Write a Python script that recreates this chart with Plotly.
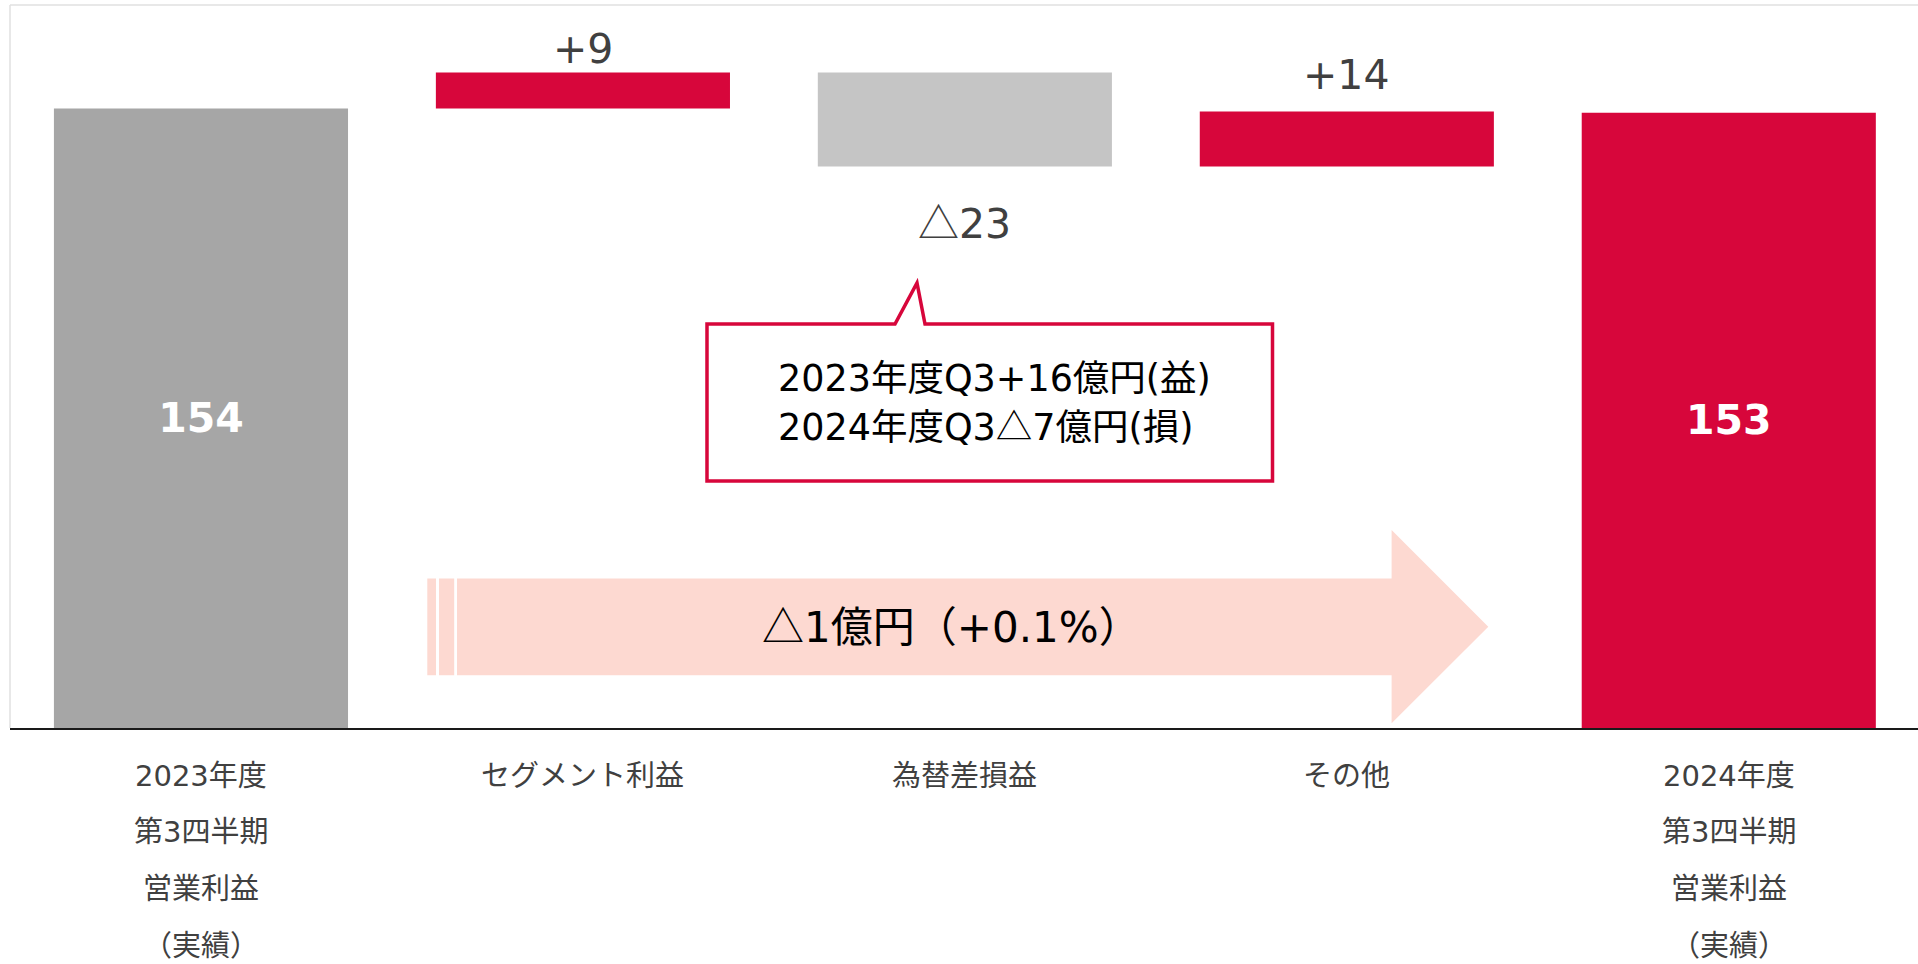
import plotly.graph_objects as go

# ---------------- data ----------------
category_lines = [
    ["2023年度", "第3四半期", "営業利益", "（実績）"],
    ["セグメント利益"],
    ["為替差損益"],
    ["その他"],
    ["2024年度", "第3四半期", "営業利益", "（実績）"],
]
start_value = 154.0
delta_values = [9.0, -23.4, 13.7]
end_value = 153.0
total_labels = ["154", "153"]
delta_labels = ["+9", "△23", "+14"]
callout_lines = ["2023年度Q3+16億円(益)", "2024年度Q3△7億円(損)"]
arrow_label = "△1億円（+0.1%）"

# ---------------- styles ----------------
RED = "#D7063B"
bar_colors = ["#A6A6A6", RED, "#C5C5C5", RED, RED]
label_offsets = [23, -53, 36]      # px shift of delta labels from bar edge
FONT = "DejaVu Sans, Noto Sans CJK JP"

W, H = 1918, 964
ML, MR, MT, MB = 10, 0, 5, 236
PW, PH = W - ML - MR, H - MT - MB


def px(x):
    return (x - ML) / PW


def py(y):
    return (H - MB - y) / PH


def tri(s):
    # render the triangle mark with the Japanese font (full-width glyph)
    return s.replace("△", "<span style=\"font-family:Noto Sans CJK JP\">△</span>")


categories = ["<br>".join(l) for l in category_lines]

# waterfall bases / heights
bases, heights = [0.0], [start_value]
cum = start_value
delta_ends = []
for d in delta_values:
    if d >= 0:
        bases.append(cum)
        heights.append(d)
    else:
        bases.append(cum + d)
        heights.append(-d)
    delta_ends.append(cum + d)
    cum += d
bases.append(0.0)
heights.append(end_value)

bar_text = [total_labels[0], "", "", "", total_labels[1]]

fig = go.Figure()
fig.add_trace(go.Bar(
    x=categories, y=heights, base=bases, width=0.77,
    marker=dict(color=bar_colors, line=dict(width=0)),
    text=bar_text, textposition="inside", insidetextanchor="middle",
    textangle=0,
    textfont=dict(family=FONT, size=41, color="white", weight="bold"),
    hoverinfo="skip",
))

annotations = []
# delta labels
for i, (lab, val, off) in enumerate(zip(delta_labels, delta_ends, label_offsets)):
    annotations.append(dict(
        x=categories[i + 1], y=val, xref="x", yref="y", text=tri(lab),
        showarrow=False, yanchor="middle", yshift=off,
        font=dict(family=FONT, size=41, color="#404040"),
    ))

# category labels (multi-line, wide spacing)
for cat, lines in zip(categories, category_lines):
    for j, line in enumerate(lines):
        annotations.append(dict(
            x=cat, xref="x", y=py(775.5 + 56.8 * j), yref="paper",
            text=line, showarrow=False, yanchor="middle",
            font=dict(family=FONT, size=29, color="#404040"),
        ))

# callout text
for j, line in enumerate(callout_lines):
    annotations.append(dict(
        x=px(776), y=py(379 + 46 * j), xref="paper", yref="paper",
        text=tri(line), showarrow=False, xanchor="left", yanchor="middle",
        font=dict(family=FONT, size=36.5, color="#000000"),
    ))

# arrow text
annotations.append(dict(
    x=px(760), y=py(623), xref="paper", yref="paper", text=tri(arrow_label),
    showarrow=False, xanchor="left", yanchor="middle",
    font=dict(family=FONT, size=42, color="#000000"),
))


def path(points):
    return "M " + " L ".join(f"{px(a):.5f},{py(b):.5f}" for a, b in points) + " Z"


PINK = "#FDD9D1"
shapes = [
    # frame lines
    dict(type="line", xref="paper", yref="paper", x0=0, x1=1, y0=1, y1=1,
         line=dict(color="#E0E0E0", width=1.5)),
    dict(type="line", xref="paper", yref="paper", x0=0, x1=0, y0=0, y1=1,
         line=dict(color="#E0E0E0", width=1.5)),
    # arrow stripes
    dict(type="path", xref="paper", yref="paper", layer="below",
         path=path([(427.3, 578.5), (436, 578.5), (436, 675.3), (427.3, 675.3)]),
         fillcolor=PINK, line=dict(width=0)),
    dict(type="path", xref="paper", yref="paper", layer="below",
         path=path([(439, 578.5), (454.2, 578.5), (454.2, 675.3), (439, 675.3)]),
         fillcolor=PINK, line=dict(width=0)),
    # arrow body + head
    dict(type="path", xref="paper", yref="paper", layer="below",
         path=path([(457, 578.5), (1391.6, 578.5), (1391.6, 530), (1488.3, 626.7),
                    (1391.6, 723.3), (1391.6, 675.3), (457, 675.3)]),
         fillcolor=PINK, line=dict(width=0)),
    # callout
    dict(type="path", xref="paper", yref="paper",
         path=path([(707, 324), (895, 324), (917, 283), (925, 324), (1272.5, 324),
                    (1272.5, 481), (707, 481)]),
         fillcolor="white", line=dict(color=RED, width=3.5)),
]

fig.update_layout(
    width=W, height=H,
    margin=dict(l=ML, r=MR, t=MT, b=MB, pad=0),
    paper_bgcolor="white", plot_bgcolor="white",
    showlegend=False,
    xaxis=dict(type="category", categoryorder="array", categoryarray=categories,
               range=[-0.5, -0.5 + PW / 381.95], showticklabels=False,
               showline=True, linecolor="#1A1A1A", linewidth=2,
               showgrid=False, zeroline=False, ticks="", fixedrange=True),
    yaxis=dict(range=[0, PH / 4.022], visible=False, fixedrange=True),
    annotations=annotations,
    shapes=shapes,
    font=dict(family=FONT),
)

fig.write_html(
    "out.html",
    config={"displayModeBar": False},
    post_script="document.body.style.margin='0';document.body.style.padding='0';"
                "document.body.style.overflow='hidden';",
)
